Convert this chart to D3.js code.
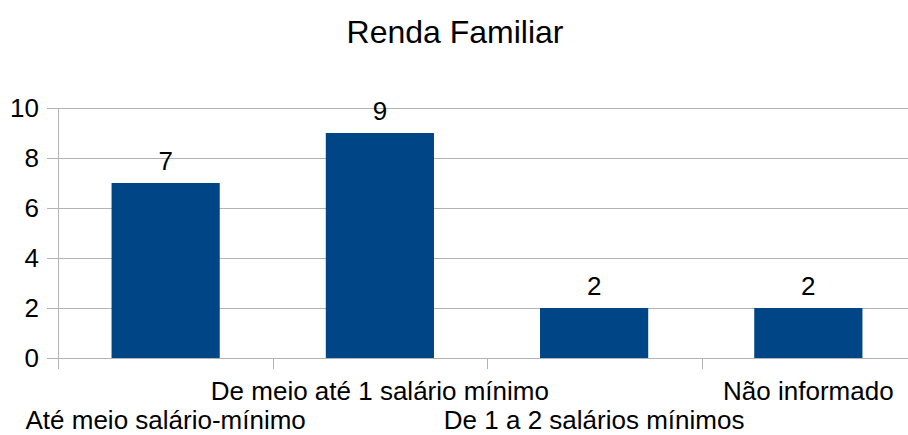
<!DOCTYPE html>
<html>
<head>
<meta charset="utf-8">
<script src="https://cdn.jsdelivr.net/npm/d3@7"></script>
<style>
  html, body { margin: 0; padding: 0; background: #fff; overflow: hidden; }
  svg { display: block; font-family: "Liberation Sans", Arial, sans-serif; }
  .grid line { stroke: #b3b3b3; stroke-width: 1; }
</style>
</head>
<body>
<div id="chart"></div>
<script>
// Dados do gráfico
const titulo = 'Renda Familiar';
const categorias = [
  'Até meio salário-mínimo',
  'De meio até 1 salário mínimo',
  'De 1 a 2 salários mínimos',
  'Não informado'
];
const valores = [7, 9, 2, 2];
const ticksY = [0, 2, 4, 6, 8, 10];

const width = 908, height = 435;
const margin = { top: 108, right: -8, bottom: 77, left: 58 };
const plotW = width - margin.left - margin.right;
const plotH = height - margin.top - margin.bottom;

const svg = d3.select('#chart').append('svg')
  .attr('width', width)
  .attr('height', height);

// Título
svg.append('text')
  .attr('x', 455)
  .attr('y', 43)
  .attr('text-anchor', 'middle')
  .style('font-size', '32px')
  .style('fill', '#000')
  .text(titulo);

const g = svg.append('g')
  .attr('transform', `translate(${margin.left},${margin.top})`);

const x = d3.scaleBand()
  .domain(categorias)
  .range([0, plotW])
  .paddingInner(0.495)
  .paddingOuter(0.25);

const y = d3.scaleLinear()
  .domain([0, 10])
  .range([plotH, 0]);

// Linhas de grade horizontais (com marcas à esquerda)
g.append('g')
  .attr('class', 'grid')
  .selectAll('line')
  .data(ticksY)
  .enter().append('line')
  .attr('x1', -11)
  .attr('x2', plotW)
  .attr('y1', d => Math.round(y(d)) + 0.5)
  .attr('y2', d => Math.round(y(d)) + 0.5);

// Eixo Y: linha vertical
g.append('line')
  .attr('x1', 0.5).attr('x2', 0.5)
  .attr('y1', 0).attr('y2', plotH + 11)
  .style('stroke', '#b3b3b3');

// Rótulos do eixo Y
g.append('g')
  .selectAll('text')
  .data(ticksY)
  .enter().append('text')
  .attr('x', -19)
  .attr('y', d => y(d))
  .attr('dy', '0.36em')
  .attr('text-anchor', 'end')
  .style('font-size', '26px')
  .text(d => d);

// Marcas do eixo X entre categorias
g.append('g')
  .selectAll('line')
  .data(d3.range(categorias.length + 1))
  .enter().append('line')
  .attr('x1', i => Math.round(i * plotW / categorias.length) + 0.5)
  .attr('x2', i => Math.round(i * plotW / categorias.length) + 0.5)
  .attr('y1', plotH)
  .attr('y2', plotH + 11)
  .style('stroke', '#b3b3b3');

// Barras
g.selectAll('.bar')
  .data(valores)
  .enter().append('rect')
  .attr('class', 'bar')
  .attr('x', (d, i) => x(categorias[i]))
  .attr('width', x.bandwidth())
  .attr('y', d => y(d))
  .attr('height', d => plotH - y(d))
  .style('fill', '#004586');

// Valores acima das barras
g.selectAll('.valor')
  .data(valores)
  .enter().append('text')
  .attr('class', 'valor')
  .attr('x', (d, i) => x(categorias[i]) + x.bandwidth() / 2)
  .attr('y', d => y(d) - 13)
  .attr('text-anchor', 'middle')
  .style('font-size', '26px')
  .text(d => d);

// Rótulos das categorias (escalonados)
g.selectAll('.cat')
  .data(categorias)
  .enter().append('text')
  .attr('class', 'cat')
  .attr('x', d => x(d) + x.bandwidth() / 2)
  .attr('y', (d, i) => plotH + (i % 2 === 0 ? 71 : 42))
  .attr('text-anchor', 'middle')
  .style('font-size', '26px')
  .text(d => d);
</script>
</body>
</html>
